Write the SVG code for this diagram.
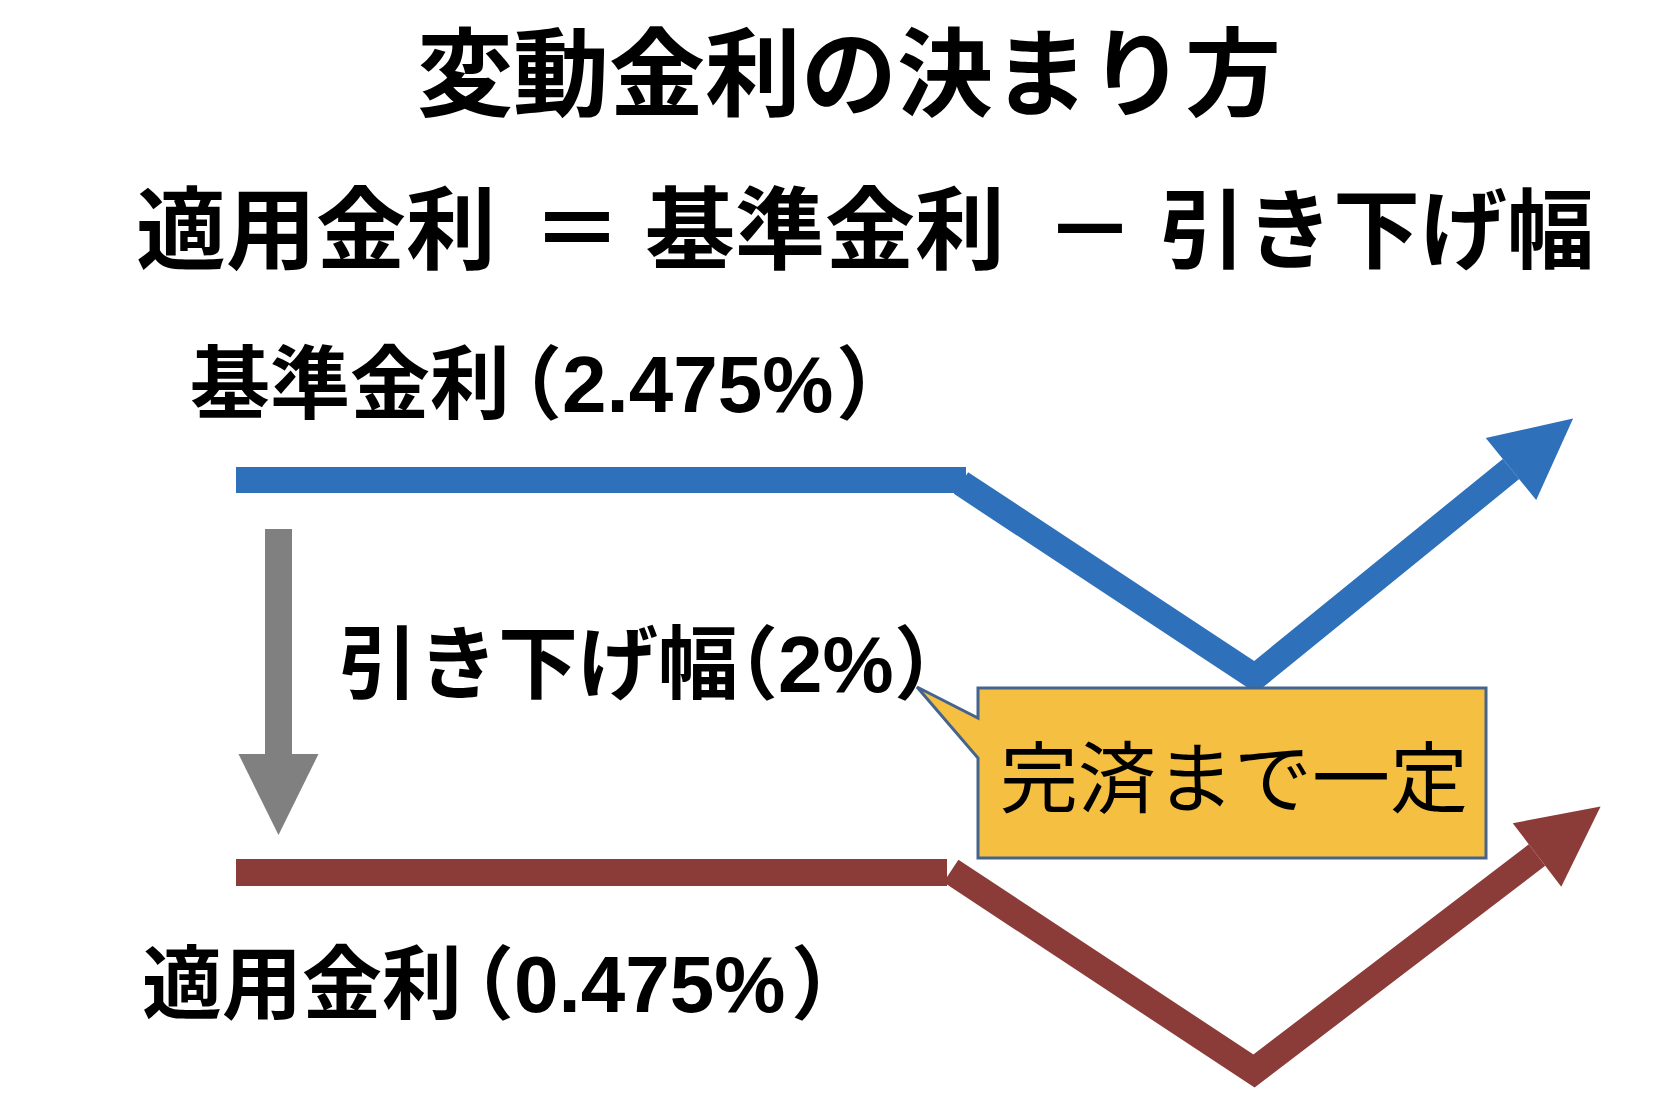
<svg xmlns="http://www.w3.org/2000/svg" width="1680" height="1096" viewBox="0 0 1680 1096">
<style>
.jp{font-family:"Noto Sans CJK JP","Noto Sans CJK SC",sans-serif;font-weight:700;fill:#000}
.lat{font-family:"Liberation Sans",Arial,"Noto Sans CJK JP",sans-serif;font-weight:700}
.par{font-feature-settings:"halt" 1}
.reg{font-family:"Noto Sans CJK JP","Noto Sans CJK SC",sans-serif;font-weight:400;fill:#000}
.blue{stroke:#2E70B9;fill:none;stroke-width:26;stroke-linejoin:miter;stroke-miterlimit:10}
.brown{stroke:#8B3B38;fill:none;stroke-width:27;stroke-linejoin:miter;stroke-miterlimit:10}
.gray{stroke:#808080;fill:none;stroke-width:27}
</style>
<defs>
<marker id="hBlue" markerUnits="userSpaceOnUse" viewBox="0 -40 80 80" refX="0" refY="0" markerWidth="80" markerHeight="80" orient="auto" overflow="visible"><path d="M0,-40 L80,0 L0,40 Z" fill="#2E70B9"/></marker>
<marker id="hBrown" markerUnits="userSpaceOnUse" viewBox="0 -40 80 80" refX="0" refY="0" markerWidth="80" markerHeight="80" orient="auto" overflow="visible"><path d="M0,-40 L80,0 L0,40 Z" fill="#8B3B38"/></marker>
<marker id="hGray" markerUnits="userSpaceOnUse" viewBox="0 -40 81 80" refX="0" refY="0" markerWidth="81" markerHeight="80" orient="auto" overflow="visible"><path d="M0,-40 L81,0 L0,40 Z" fill="#808080"/></marker>
</defs>
<rect width="1680" height="1096" fill="#fff"/>
<g id="title">
<text class="jp" x="849" y="108" font-size="96" text-anchor="middle">変動金利の決まり方</text>
</g>
<g id="formula">
<text class="jp" font-size="90" y="262"><tspan x="136">適用金利</tspan><tspan x="532">＝</tspan><tspan x="645">基準金利</tspan><tspan x="1045">－</tspan><tspan x="1159" font-size="87">引き下げ幅</tspan></text>
</g>
<g id="connectors">
<rect x="236" y="467" width="730" height="26" fill="#2E70B9"/>
<polyline class="blue" points="961,483 1255,677 1511,469" marker-end="url(#hBlue)"/>
<rect x="236" y="859" width="711" height="27" fill="#8B3B38"/>
<polyline class="brown" points="951,871 1254,1071 1537,855" marker-end="url(#hBrown)"/>
<line class="gray" x1="278.5" y1="529" x2="278.5" y2="754" marker-end="url(#hGray)"/>
</g>
<g id="label-base">
<text class="jp" font-size="80" y="412"><tspan x="190">基準金利</tspan><tspan class="par" x="522">（</tspan><tspan class="lat" x="562">2.475%</tspan><tspan class="par" x="836">）</tspan></text>
</g>
<g id="label-spread">
<text class="jp" font-size="80" y="692"><tspan x="338">引き下げ幅</tspan><tspan class="par" x="738">（</tspan><tspan class="lat" x="778">2%</tspan><tspan class="par" x="894">）</tspan></text>
</g>
<g id="label-applied">
<text class="jp" font-size="80" y="1012"><tspan x="142">適用金利</tspan><tspan class="par" x="474">（</tspan><tspan class="lat" x="514">0.475%</tspan><tspan class="par" x="791">）</tspan></text>
</g>
<g id="callout">
<path d="M978,688 H1486 V858 H978 V758 L917,687 L978,718 Z" fill="#F5BF41" stroke="#44648E" stroke-width="3" stroke-linejoin="miter"/>
<text class="reg" x="1000" y="807" font-size="78">完済まで一定</text>
</g>
</svg>
